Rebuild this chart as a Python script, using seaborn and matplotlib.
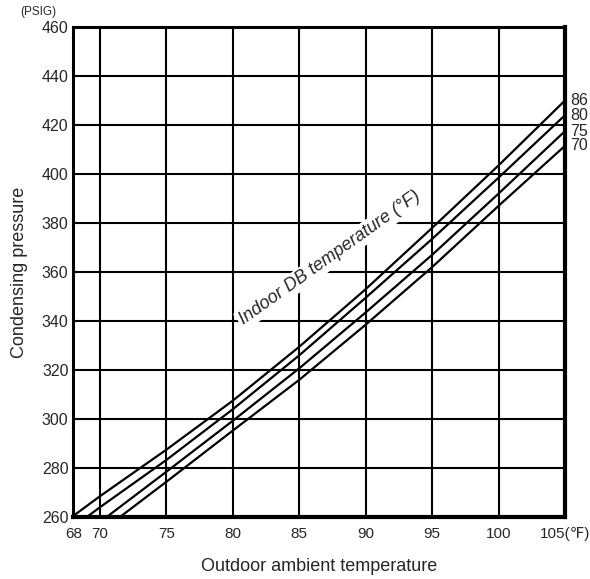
import numpy as np
import pandas as pd
import seaborn as sns
import matplotlib.pyplot as plt

# indoor DB temperature curves
x_86 = [68.0, 70, 75, 80, 85, 90, 95, 100, 105]
y_86 = [260.5, 268.5, 287.5, 307.5, 329.5, 353, 378, 403.5, 430]
x_80 = [69.0, 70, 75, 80, 85, 90, 95, 100, 105]
y_80 = [260, 264, 283.3, 304, 326, 349.5, 373.5, 398.5, 424]
x_75 = [70.5, 75, 80, 85, 90, 95, 100, 105]
y_75 = [260, 278.5, 299.3, 320.7, 343.5, 367, 392, 417.5]
x_70 = [71.5, 75, 80, 85, 90, 95, 100, 105]
y_70 = [260, 274.4, 295.3, 316, 338.5, 362, 387, 411.5]

curve_names = ["86", "80", "75", "70"]
x_ticks = [68, 70, 75, 80, 85, 90, 95, 100, 105]
x_ticklabels = ["68", "70", "75", "80", "85", "90", "95", "100", "105(\u2109)"]
y_ticks = list(range(260, 461, 20))

sns.set_style("white")
plt.rcParams['font.family'] = ['Liberation Sans', 'DejaVu Sans']

fig = plt.figure(figsize=(5.9, 5.79), dpi=100)
ax = fig.add_axes([0.1244, 0.107, 0.8332, 0.8464])

curves = [(x_86, y_86), (x_80, y_80), (x_75, y_75), (x_70, y_70)]
for name, (xs, ys) in zip(curve_names, curves):
    sns.lineplot(x=xs, y=ys, color="black", linewidth=1.6, ax=ax, zorder=3)
    ax.annotate(name, xy=(xs[-1], ys[-1]), xytext=(4, 0), textcoords="offset points",
                va="center", ha="left", fontsize=11.5, annotation_clip=False)

ax.set_xlim(68, 105)
ax.set_ylim(260, 460)
ax.set_xticks(x_ticks)
ax.set_xticklabels(x_ticklabels)
ax.set_yticks(y_ticks)
ax.tick_params(length=0, labelsize=11.5)
ax.tick_params(axis="x", pad=7, labelsize=11)
ax.tick_params(axis="y", pad=3.5)

# grid lines
for v in x_ticks[1:-1]:
    ax.axvline(v, color="black", linewidth=1.5, zorder=1)
for v in y_ticks[1:-1]:
    ax.axhline(v, color="black", linewidth=1.5, zorder=1)

for side in ["left", "top"]:
    ax.spines[side].set_linewidth(2.2)
for side in ["right", "bottom"]:
    ax.spines[side].set_linewidth(3.0)
for s in ax.spines.values():
    s.set_color("black")
    s.set_zorder(5)

ax.set_xlabel("Outdoor ambient temperature", fontsize=13, labelpad=12)
ax.set_ylabel("Condensing pressure", fontsize=13, labelpad=10)

fig.text(38 / 590, 1 - 12 / 579, "(PSIG)", fontsize=8.5, ha="center", va="center")

ax.text(87.3, 365.7, "Indoor DB temperature (\u00b0F)", rotation=35.5, style="italic",
        fontsize=13, ha="center", va="center", zorder=4,
        bbox=dict(facecolor="white", edgecolor="none", pad=1.5))

fig.savefig("out.png", dpi=100)
